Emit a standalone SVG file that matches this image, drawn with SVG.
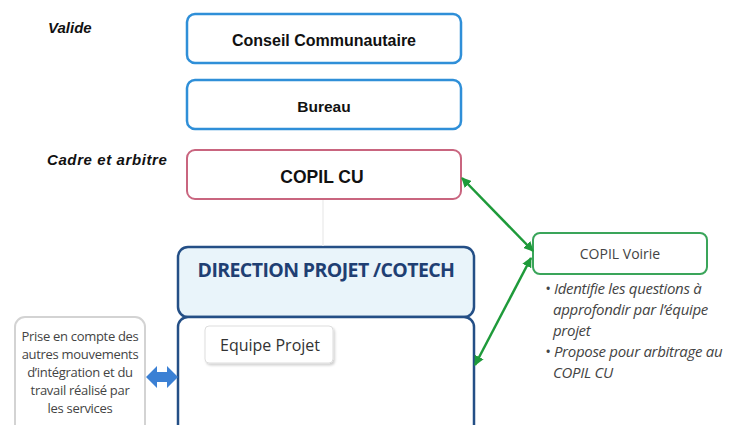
<svg xmlns="http://www.w3.org/2000/svg" width="739" height="425" viewBox="0 0 739 425">
<defs>
<marker id="ga" viewBox="0 0 10 10" refX="9" refY="5" markerWidth="4" markerHeight="4" orient="auto-start-reverse"><path d="M0,0 L10,5 L0,10 z" fill="#1e9a3a"/></marker>
<filter id="sh" x="-10%" y="-10%" width="130%" height="140%"><feDropShadow dx="1.5" dy="2" stdDeviation="1.2" flood-color="#000" flood-opacity="0.18"/></filter>
</defs>
<style>
.lab{font-family:"Liberation Sans",Arial,sans-serif;font-style:italic;font-weight:bold;fill:#111}
.blue{fill:#fff;stroke:#2f8fd8;stroke-width:2.5}
.t{font-family:"Liberation Sans",Arial,sans-serif;font-weight:bold;fill:#111;text-anchor:middle}
.g{font-family:"Open Sans","Liberation Sans",sans-serif;fill:#444}
.conn{stroke:#1e9a3a;stroke-width:2.5;fill:none}
</style>
<rect width="739" height="425" fill="#fff"/>
<text class="lab" x="48" y="33" font-size="15">Valide</text>
<text class="lab" x="47" y="165" font-size="15" letter-spacing="0.6">Cadre et arbitre</text>
<g id="conseil"><rect class="blue" x="187" y="14" width="274" height="49" rx="8"/><text class="t" x="324" y="46" font-size="16">Conseil Communautaire</text></g>
<g id="bureau"><rect class="blue" x="187" y="80" width="274" height="49" rx="8"/><text class="t" x="324" y="112" font-size="15.5">Bureau</text></g>
<g id="copilcu"><rect x="187" y="150" width="274" height="49" rx="8" fill="#fff" stroke="#c9657f" stroke-width="2"/><text class="t" x="322" y="183" font-size="17.5">COPIL CU</text></g>
<g id="direction"><rect x="178" y="247" width="296" height="70" rx="10" fill="#e9f4fa" stroke="#244f86" stroke-width="2.5"/><text x="326" y="277" text-anchor="middle" font-family="'Open Sans','Liberation Sans',sans-serif" font-weight="bold" font-size="19.5" fill="#1f3f73" letter-spacing="-0.6">DIRECTION PROJET /COTECH</text></g>
<g id="equipe"><rect x="178" y="317" width="296" height="120" rx="10" fill="#fff" stroke="#244f86" stroke-width="2.5"/><rect x="205" y="326" width="128" height="37" rx="4" fill="#fff" stroke="#ddd" stroke-width="1" filter="url(#sh)"/><text x="270" y="351" text-anchor="middle" font-family="'Open Sans','Liberation Sans',sans-serif" font-size="16" fill="#333">Equipe Projet</text></g>
<g id="prise"><rect x="15" y="317" width="130" height="120" rx="10" fill="#fff" stroke="#d3d3d3" stroke-width="2"/>
<text class="g" font-size="13" text-anchor="middle" letter-spacing="-0.3"><tspan x="80" y="341">Prise en compte des</tspan><tspan x="80" y="359">autres mouvements</tspan><tspan x="80" y="377">d’intégration et du</tspan><tspan x="80" y="395">travail réalisé par</tspan><tspan x="80" y="413">les services</tspan></text></g>
<g id="copilvoirie"><rect x="533" y="233" width="174" height="41" rx="7" fill="#fff" stroke="#3aa55a" stroke-width="2"/><text class="g" x="620" y="259" font-size="14" text-anchor="middle">COPIL Voirie</text>
<text class="g" font-size="15" font-style="italic" letter-spacing="-0.3"><tspan x="545" y="294">• Identifie les questions à</tspan><tspan x="553" y="315">approfondir par l’équipe</tspan><tspan x="553" y="336">projet</tspan><tspan x="545" y="357">• Propose pour arbitrage au</tspan><tspan x="553" y="378">COPIL CU</tspan></text></g>
<g id="connectors">
<line x1="323" y1="200" x2="323" y2="246" stroke="#eeeeee" stroke-width="1.5"/>
<line class="conn" x1="533" y1="251" x2="462" y2="178" marker-start="url(#ga)" marker-end="url(#ga)"/>
<line class="conn" x1="531" y1="258" x2="475" y2="365" marker-start="url(#ga)" marker-end="url(#ga)"/>
<path d="M146,377 L157,366 L157,372 L167,372 L167,366 L178,377 L167,388 L167,382 L157,382 L157,388 Z" fill="#3b80d4"/>
</g>
</svg>
